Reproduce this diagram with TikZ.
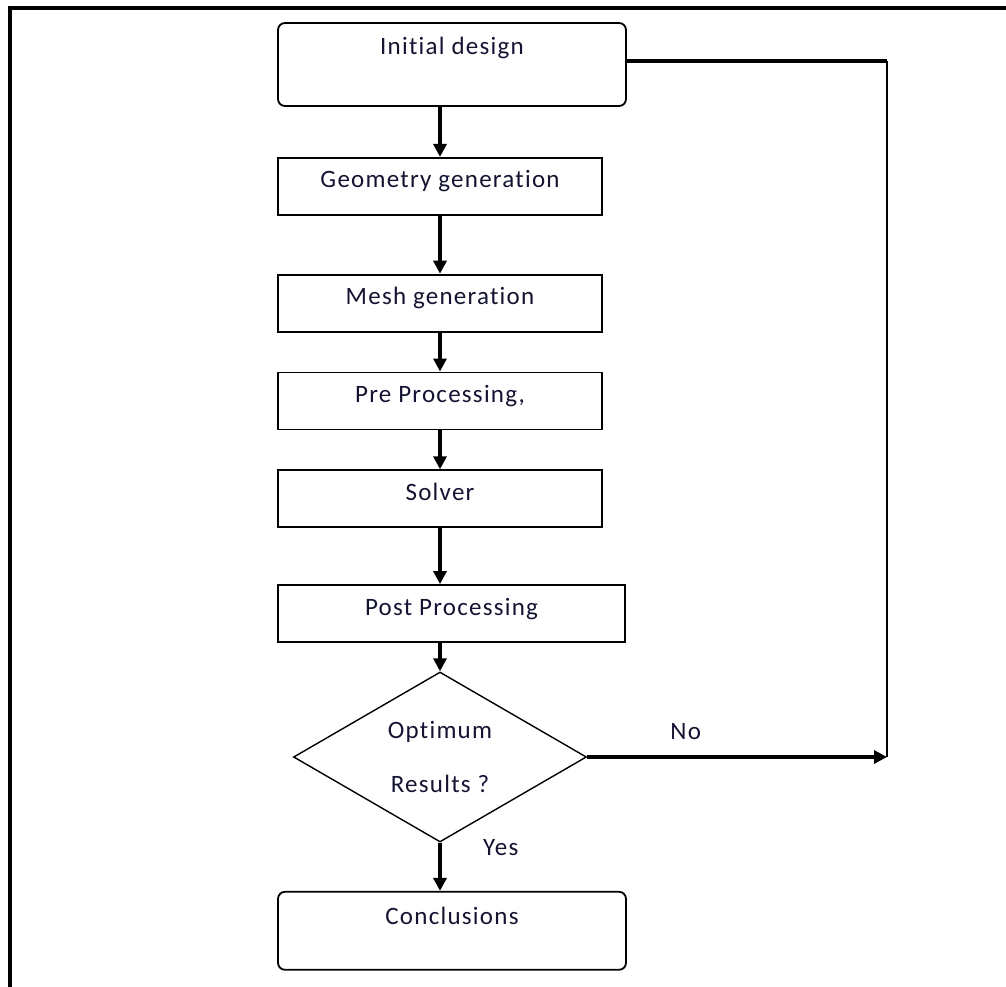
\documentclass[tikz,border=0pt]{standalone}
\usepackage{fontspec}
\setmainfont{Carlito}[LetterSpace=5, Ligatures=NoCommon]
\usepackage{tikz}
\usetikzlibrary{shapes.geometric, arrows.meta, positioning}
\definecolor{inkblue}{RGB}{20,20,50}

\begin{document}
\begin{tikzpicture}[x=1pt, y=-1pt,
            font = \fontsize{25}{29}\selectfont,
            box/.style = {draw, line width=1.8pt, minimum width=324pt, inner sep=0pt,
                          text height=30pt, text depth=27pt, text=inkblue},
            roundbox/.style = {box, minimum width=348pt, rounded corners=7pt},
            decision/.style = {draw, diamond, line width=1.4pt, aspect=1.72, inner sep=0pt,
                               minimum width=293pt, minimum height=170pt, align=center, text=inkblue},
            flow/.style = {line width=3.5pt, -{Triangle[length=13pt, width=13pt]}},
            frame/.style = {line width=3.5pt}]
            \useasboundingbox (0,0) rectangle (1006,987);
            \draw[frame] (10,1000) -- (10,8) -- (1010,8);
            \node (init) [roundbox, text height=32pt, text depth=51pt] at (452,64.5) {Initial design};
            \node (geo) [box, below=50pt of init.south west, anchor=north west] {Geometry generation};
            \node (mesh) [box, below=58pt of geo.south west, anchor=north west] {Mesh generation};
            \node (pre) [box, below=39pt of mesh.south west, anchor=north west] {Pre Processing,};
            \node (solv) [box, below=39pt of pre.south west, anchor=north west] {Solver};
            \node (post) [box, minimum width=347pt, below=56pt of solv.south west, anchor=north west] {Post Processing};
            \node (dec) [decision] at (440,757) {Optimum\\[25pt]Results ?};
            \node (concl) [roundbox, text height=33pt, text depth=45pt, below=248pt of post.south west, anchor=north west] {Conclusions};
            \coordinate (back) at (887,61);
            % main chain
            \draw[flow] (init.south -| dec) -- (geo.north -| dec);
            \draw[flow] (geo.south -| dec) -- (mesh.north -| dec);
            \draw[flow] (mesh.south -| dec) -- (pre.north -| dec);
            \draw[flow] (pre.south -| dec) -- (solv.north -| dec);
            \draw[flow] (solv.south -| dec) -- (post.north -| dec);
            \draw[flow] (post.south -| dec) -- (dec.north);
            \draw[flow] (dec.south) -- (concl.north -| dec);
            % loop back
            \draw[line width=3.5pt] (init.east |- back) -- (back);
            \draw[line width=1.8pt] (back) -- (back |- dec.east);
            \draw[flow] (dec.east) -- (back |- dec.east);
            \node (no) [above right=17pt and 83pt of dec.east, anchor=south west, inner sep=0pt, text=inkblue] {No};
            \node (yes) [right=43pt of dec.south, anchor=west, inner sep=0pt, yshift=-5pt, text=inkblue] {Yes};
\end{tikzpicture}
\end{document}
